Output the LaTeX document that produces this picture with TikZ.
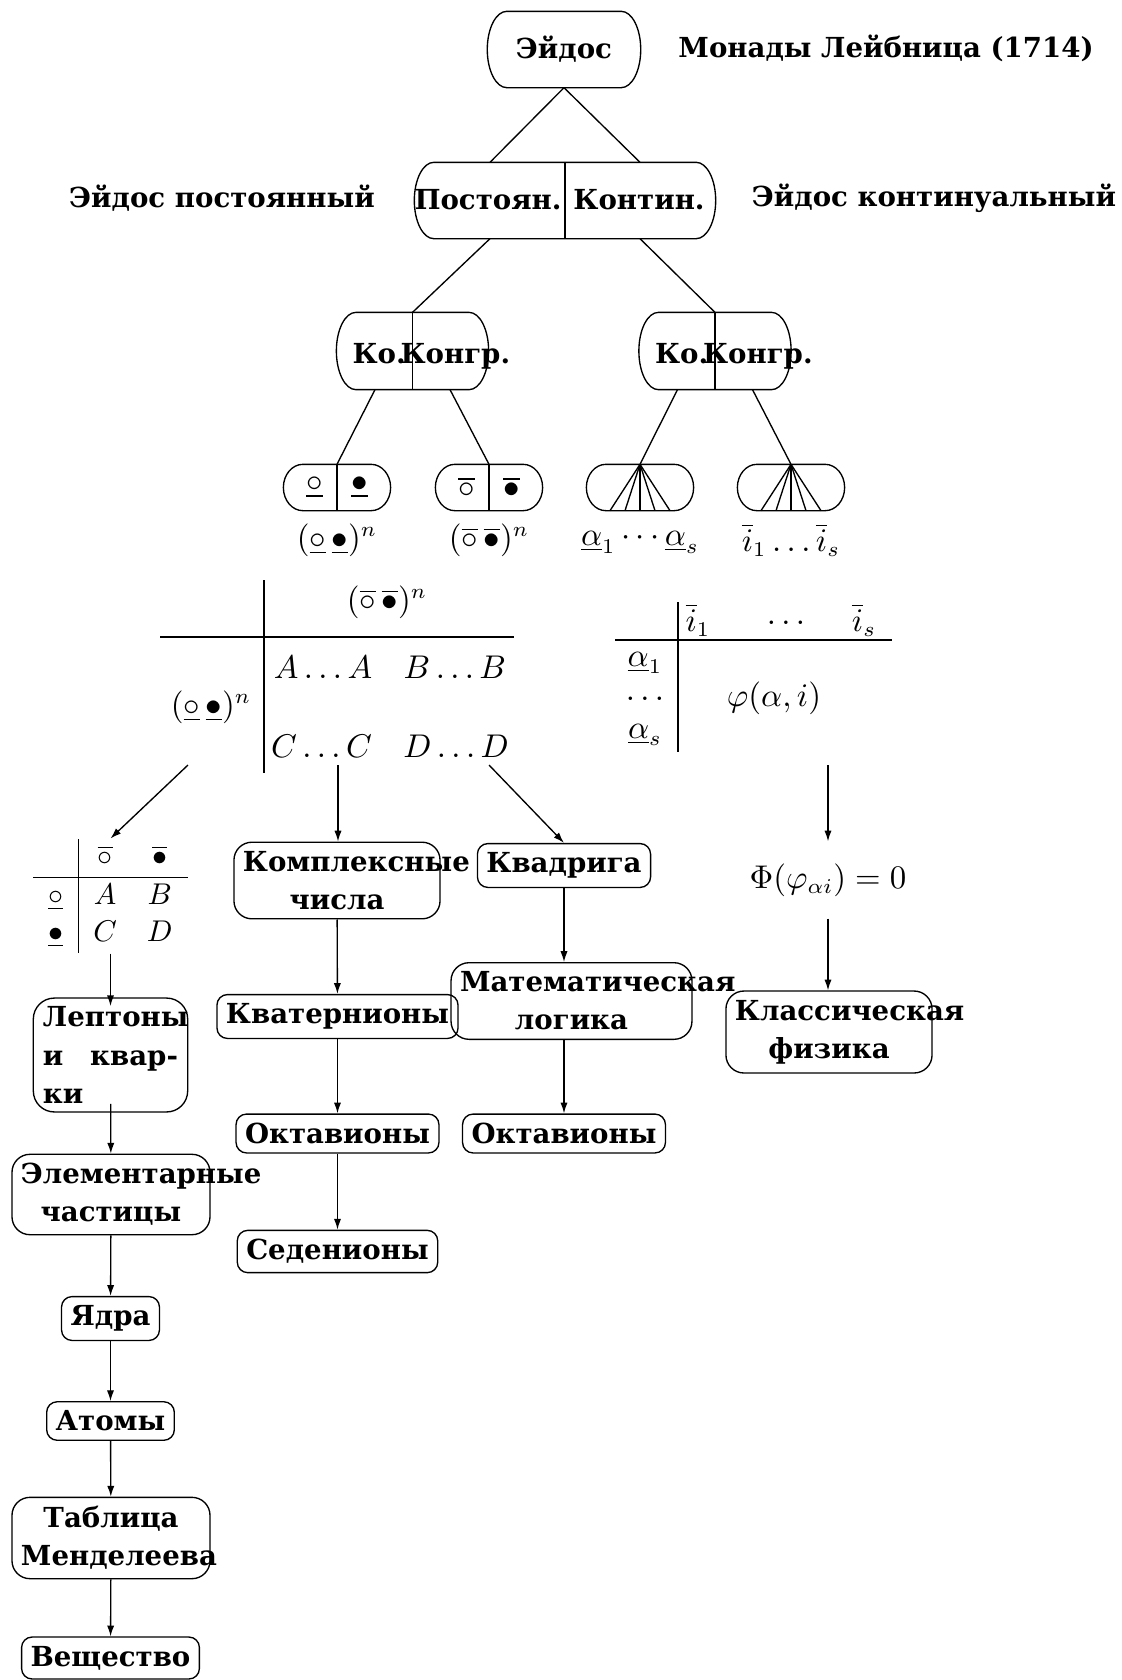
\documentclass[tikz,border=0pt]{standalone}
\usepackage[no-math]{fontspec}
\setmainfont{DejaVu Serif}
\usetikzlibrary{arrows.meta,calc,fit,positioning}

\tikzset{
  lbl/.style={font=\fontsize{9.2}{12.7}\selectfont\bfseries, inner sep=0pt},
  mth/.style={font=\fontsize{10.5}{12.7}\selectfont, inner sep=0pt},
  oval/.style={lbl, minimum height=25pt},
  box/.style={draw, lbl, rounded corners=3.5pt, inner sep=3pt},
  bigbox/.style={box, rounded corners=6pt, align=center},
  arr/.style={-{Latex[length=3.6pt,width=2.4pt]}},
}
% border of an oval node: flat top and bottom, elliptic ends
\newcommand{\ovalline}[2][6.5pt]{%
  \draw let \p1=(#2.north), \p2=(#2.south), \n1={0.5*(\y1-\y2)} in
    ([xshift=#1]#2.north west) -- ([xshift=-#1]#2.north east)
    arc[start angle=90, end angle=-90, x radius=#1, y radius=\n1]
    -- ([xshift=#1]#2.south west)
    arc[start angle=270, end angle=90, x radius=#1, y radius=\n1] -- cycle;}

\begin{document}
\begin{tikzpicture}[x=0.3333pt, y=-0.3333pt, line width=0.45pt]
\useasboundingbox (0,0) rectangle (1122,1680);

% top of the tree
\node[oval, minimum width=50.7pt] (eidos) at (564,49.5) {Эйдос};
\ovalline{eidos}
\node[lbl] (leibniz) at (886,48) {Монады Лейбница (1714)};

\node[oval, minimum width=100pt] (pk) at (565,200.5) {};
\ovalline{pk}
\draw (pk.north) -- (pk.south);
\node[lbl] (post) at (488,200) {Постоян.};
\node[lbl] (cont) at (639,200) {Контин.};
\node[lbl] (postlbl) at (222,198) {Эйдос постоянный};
\node[lbl] (contlbl) at (934,198) {Эйдос континуальный};
\draw (eidos.south) -- ([xshift=-25pt]pk.north);
\draw (eidos.south) -- ([xshift=25pt]pk.north);

% Ко|Конгр.
\foreach \nm/\cx in {koL/412.5, koR/715}{
  \node[oval, minimum width=50.3pt, minimum height=25.3pt] (\nm) at (\cx,351) {};
  \ovalline{\nm}
  \draw (\nm.north) -- (\nm.south);
  \node[lbl, anchor=base west] (\nm-a) at ([xshift=-20.2pt, yshift=-4pt]\nm.center) {Ко.};
  \node[lbl, anchor=base west] (\nm-b) at ([xshift=-4.2pt, yshift=-4pt]\nm.center) {Конгр.};
}
\draw ([xshift=-25pt]pk.south) -- (koL.north);
\draw ([xshift=25pt]pk.south) -- (koR.north);

% small ovals
\foreach \nm/\cx in {sa/337, sb/489, sc/640, sd/791}{
  \node[oval, minimum width=35.3pt, minimum height=15pt] (\nm) at (\cx,487.5) {};
  \ovalline{\nm}
}
\draw ([xshift=-12.5pt]koL.south) -- (sa.north);
\draw ([xshift=12.5pt]koL.south) -- (sb.north);
\draw ([xshift=-12.5pt]koR.south) -- (sc.north);
\draw ([xshift=12.5pt]koR.south) -- (sd.north);
\draw (sa.north) -- (sa.south);
\draw (sb.north) -- (sb.south);
\node[mth] (sa-w) at ([xshift=-7.5pt]sa.center) {$\underline{\circ}$};
\node[mth] (sa-b) at ([xshift=7.5pt]sa.center) {$\underline{\bullet}$};
\node[mth] (sb-w) at ([xshift=-7.5pt]sb.center) {$\overline{\circ}$};
\node[mth] (sb-b) at ([xshift=7.5pt]sb.center) {$\overline{\bullet}$};
\foreach \d in {-10,-5,0,5,10}{
  \draw (sc.north) -- ([xshift=\d pt]sc.south);
  \draw (sd.north) -- ([xshift=\d pt]sd.south);
}
\node[mth] (pa) at (337,540) {$(\underline{\circ}\,\underline{\bullet})^n$};
\node[mth] (pb) at (489,540) {$(\overline{\circ}\,\overline{\bullet})^n$};
\node[mth] (pc) at (640,542) {$\underline{\alpha}_1\cdots\underline{\alpha}_s$};
\node[mth] (pd) at (791,540) {$\overline{i}_1\ldots\overline{i}_s$};

% left table
\draw (264,580) -- (264,773);
\draw (160,637) -- (514,637);
\node[mth] (bt-head) at (387,602) {$(\overline{\circ}\,\overline{\bullet})^n$};
\node[mth] (bt-ab) at (390,667) {$A\ldots A\quad B\ldots B$};
\node[mth] (bt-cd) at (390,746) {$C\ldots C\quad D\ldots D$};
\node[mth] (bt-row) at (211,707) {$(\underline{\circ}\,\underline{\bullet})^n$};

% right table
\draw (678,602) -- (678,752);
\draw (615,640) -- (892,640);
\node[mth] (rt-i1) at (698,620) {$\overline{i}_1$};
\node[mth] (rt-dots) at (786,623) {$\ldots$};
\node[mth] (rt-is) at (864,620) {$\overline{i}_s$};
\node[mth] (rt-a1) at (645,663) {$\underline{\alpha}_1$};
\node[mth] (rt-adots) at (645,699) {$\ldots$};
\node[mth] (rt-as) at (645,735) {$\underline{\alpha}_s$};
\node[mth] (rt-phi) at (774,698) {$\varphi(\alpha,i)$};

\coordinate (fromL) at (188,765);
\coordinate (fromM) at (338,765);
\coordinate (fromR) at (489,765);
\coordinate (fromphi) at (828,765);

% left column
\node[mth, font=\fontsize{10}{12.5}\selectfont] (abcd) at (110.5,896) {$\begin{array}{c|cc}
  & \overline{\circ} & \overline{\bullet}\\ \hline
  \underline{\circ} & A & B\\
  \underline{\bullet} & C & D
\end{array}$};
\node[lbl, text width=45pt, align=left] (lept) at (110.5,1055) {Лептоны\\и\hfill квар-\\ки};
\node[draw, rounded corners=7pt, fit=(lept), inner xsep=3pt, inner ysep=2.7pt] (leptbox) {};
\node[bigbox, text width=60pt] (elem) at (111,1194.5) {Элементарные\\частицы};
\node[box] (nucl) at (110.5,1318.5) {Ядра};
\node[box] (atom) at (110.5,1421) {Атомы};
\node[bigbox, text width=60pt] (mend) at (111,1538) {Таблица\\Менделеева};
\node[box] (subst) at (110.5,1658) {Вещество};

% middle columns
\node[bigbox, text width=62.7pt] (cplx) at (337,880.5) {Комплексные\\числа};
\node[box] (quat) at (337.5,1016.5) {Кватернионы};
\node[box] (octL) at (337.5,1133.5) {Октавионы};
\node[box] (sed) at (337.5,1251.5) {Седенионы};
\node[box] (quad) at (564,865.5) {Квадрига};
\node[bigbox, text width=74.3pt] (logic) at (571.5,1001) {Математическая\\логика};
\node[box] (octR) at (564,1133.5) {Октавионы};

% right column
\node[mth, minimum height=25.3pt] (phi) at (828,880) {$\Phi(\varphi_{\alpha i})=0$};
\node[bigbox, text width=62.7pt] (klass) at (829,1032) {Классическая\\физика};

% arrows
\draw[arr] (fromL) -- (abcd.north);
\draw[arr] (abcd) -- (lept);
\draw[arr] (lept) -- (elem);
\draw[arr] (elem) -- (nucl);
\draw[arr] (nucl) -- (atom);
\draw[arr] (atom) -- (mend);
\draw[arr] (mend) -- (subst);
\draw[arr] (fromM) -- (cplx.north -| fromM);
\draw[arr] (cplx) -- (quat);
\draw[arr] (quat) -- (octL);
\draw[arr] (octL) -- (sed);
\draw[arr] (fromR) -- (quad.north);
\draw[arr] (quad.south) -- (quad.south |- logic.north);
\draw[arr] (octR |- logic.south) -- (octR.north);
\draw[arr] (fromphi) -- (phi.north);
\draw[arr] (phi.south) -- (phi.south |- klass.north);
\end{tikzpicture}
\end{document}
